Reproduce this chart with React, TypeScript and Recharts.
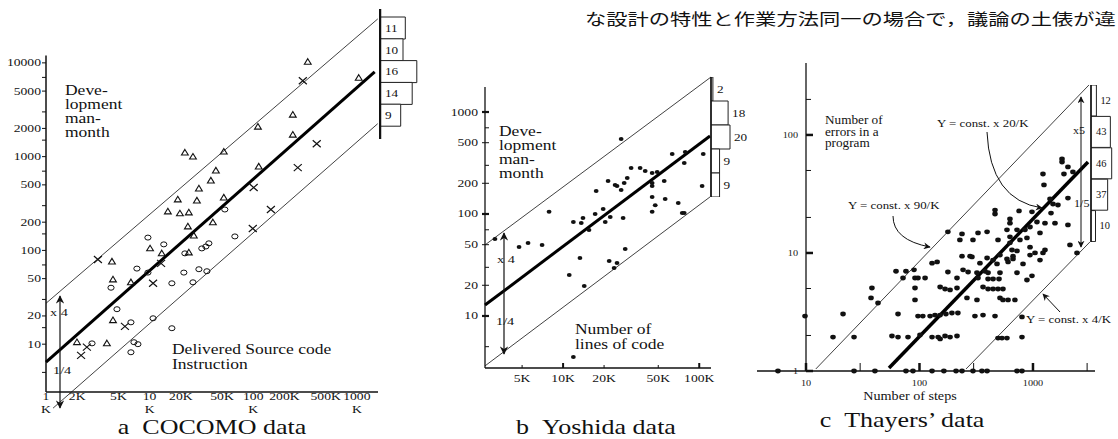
import { ScatterChart, Scatter, XAxis, YAxis, ReferenceLine, BarChart, Bar, LabelList } from 'recharts';

const SERIF = "'Liberation Serif', 'Times New Roman', Times, 'DejaVu Serif', serif";
const CJK = "'Noto Sans CJK JP', 'Noto Sans CJK SC', sans-serif";

type Pt = [number, number];
const toXY = (arr: Pt[]) => arr.map(([x, y]) => ({ x, y }));

// ---- a  COCOMO data (x: K instructions, y: man-month)
const cocomoTriangles: Pt[] = [
  [336, 10250], [1043, 6920], [241, 2800], [111, 2085], [241, 1714], [21.9, 1104], [26.2, 1000],
  [52, 1130], [113, 783], [43.6, 710], [39, 556], [29.9, 457], [18.7, 349], [28.6, 340], [52, 366],
  [15, 260], [19.6, 248], [23.9, 254], [23.4, 180], [40.8, 199], [26.7, 144], [10.1, 105], [13.1, 93],
  [23.9, 95], [4.33, 76], [4.43, 49], [6.6, 45.7], [4.43, 18], [1.99, 10.5], [3.87, 10.2],
];
const cocomoCircles: Pt[] = [
  [53.2, 273], [9.63, 137], [66.5, 141], [13.7, 116], [37.3, 119], [34.9, 110], [31.9, 105], [21.9, 93],
  [7.54, 64], [9.63, 58], [21.4, 58], [29.9, 63], [35.7, 60], [4.24, 40], [16.4, 44.6], [26.2, 45.7],
  [4.84, 23.6], [6.6, 17.1], [10.8, 18.9], [16.4, 14.8], [2.78, 10.2], [7.06, 10.5], [7.71, 10], [6.6, 8.2],
];
const cocomoCrosses: Pt[] = [
  [301, 6440], [410, 1374], [269, 764], [101, 468], [148, 273], [99, 171], [3.17, 80], [12.9, 72.7],
  [10.8, 44.6], [5.78, 15.5], [2.48, 9.3], [2.18, 7.6],
];
const cocomoUpper: Pt[] = [[1, 27.3], [1590, 29400]];
const cocomoCenter: Pt[] = [[1, 6.44], [1486, 8020]];
const cocomoLower: Pt[] = [[1.17, 2.08], [1590, 2245]];
const cocomoHist = [11, 10, 16, 14, 9];
const cocomoXDomain = [1, 1600];
const cocomoYDomain = [3.09, 32400];
const cocomoXTicks = [1, 2, 5, 10, 20, 50, 100, 200, 500, 1000];
const cocomoXTickLabels = ['1|K', '2K', '5K', '10|K', '20K', '50K', '100|K', '200K', '500K', '1000|K'];
const cocomoYLabels = [10, 20, 50, 100, 200, 500, 1000, 2000, 5000, 10000];
const cocomoYMinor = [5, 15, 30, 70, 150, 300, 700, 1500, 3000, 7000];

// ---- b  Yoshida data
const yoshidaDots: Pt[] = [
  [26.7, 544], [63.3, 388], [78.9, 405], [77.6, 316], [107, 388], [31.6, 282], [36.8, 282], [40.1, 264],
  [49.1, 258], [45.1, 252], [29.6, 225], [28.1, 201], [21.4, 211], [24.9, 188], [24.1, 192], [26.7, 172],
  [17.5, 168], [45.1, 201], [45.1, 188], [55.3, 211], [105, 188], [45.1, 147], [56.2, 140], [47.5, 122],
  [70.1, 128], [75, 102], [77.6, 102], [45.1, 105], [7.89, 105], [19.7, 112], [17.2, 100], [22.2, 93.5],
  [27.6, 91.4], [20.4, 83.5], [11.9, 83.5], [13.6, 81.6], [14, 91.4], [15.5, 69.7], [28.6, 45.4],
  [3.16, 56.9], [4.75, 47.5], [5.53, 52], [7.01, 49.7], [13.3, 37], [21.8, 34.6], [24.9, 33.1],
  [23.7, 29.6], [11.1, 25.2], [14.3, 19.7], [11.9, 3.96],
];
const yoshidaUpper: Pt[] = [[2.67, 49.7], [122, 2203]];
const yoshidaCenter: Pt[] = [[2.67, 12.8], [120, 582]];
const yoshidaLower: Pt[] = [[2.67, 3.24], [120, 147]];
const yoshidaHist = [2, 18, 20, 9, 9];
const yoshidaXDomain = [2.67, 122];
const yoshidaYDomain = [3.09, 2204];
const yoshidaXTicks = [5, 10, 20, 50, 100];
const yoshidaXTickLabels = ['5K', '10K', '20K', '50K', '100K'];
const yoshidaYLabels = [10, 20, 50, 100, 200, 500, 1000];
const yoshidaYMinor = [5, 30, 70, 300, 700];

// ---- c  Thayers' data (x: steps, y: errors)
const thayerDots: Pt[] = [
  [1803, 62.6], [1803, 59], [2033, 53.6], [2249, 48.6], [1875, 46.7], [1225, 46.7], [1250, 37.7],
  [1413, 28.7], [1500, 26], [1660, 25.5], [2033, 29.2],
  [753, 22.7], [463, 23.1], [463, 21.4], [980, 22.3], [1442, 21.8],
  [627, 19.4], [627, 17.9], [1084, 18.3], [1276, 17.9], [1563, 17.9], [2033, 17.3], [942, 16.6],
  [851, 15.7], [723, 15.7], [590, 15.7], [394, 15.1], [328, 14.8], [237, 14.5], [178, 15.1],
  [627, 13.7], [1153, 14.8],
  [296, 12.9], [227, 12.9], [492, 12.9], [627, 12.2], [768, 12.9], [885, 13.4],
  [942, 11.2], [1042, 10], [1276, 10.6], [2118, 11.7], [2443, 10],
  [290, 9.25], [237, 9.4], [394, 9.07], [653, 10.6], [723, 10.4], [279, 9.4], [512, 9.6], [667, 9.4],
  [942, 9.6], [1225, 10],
  [445, 8.7], [590, 8.9], [667, 8.9], [1153, 8.7],
  [129, 8.2], [143, 8.4], [341, 8.2], [482, 8.07], [603, 8.4], [817, 8.07],
  [242, 7.2], [268, 6.9], [321, 6.8], [378, 7.0], [402, 6.8], [512, 6.8], [723, 6.8],
  [62.1, 7.0], [76, 7.0], [89.5, 7.2], [178, 6.9],
  [71.6, 6.14], [91.3, 6.14], [97, 6.14], [112, 6.14], [214, 6.14], [328, 6.14], [402, 6.02], [445, 6.02],
  [502, 6.02], [980, 6.4], [885, 5.9],
  [38.1, 5.05], [91.3, 5.05], [152, 5.15], [168, 4.95], [186, 4.86], [214, 5.05], [363, 5.15], [402, 4.95],
  [445, 4.95], [492, 4.95], [544, 4.95],
  [37.4, 4.16], [91.3, 4.0], [262, 4.16], [321, 4.0], [512, 4.16], [544, 4.0], [603, 4.0], [694, 4.0],
  [9.8, 2.92], [21.2, 3.04], [43.1, 3.77], [64.7, 3.04], [97, 2.92], [107, 2.92], [124, 2.92], [137, 2.98],
  [152, 2.98], [171, 3.04], [193, 3.1], [218, 3.1], [308, 2.92], [363, 2.98], [463, 2.92], [800, 2.87],
  [17.3, 1.94], [26.5, 1.94], [57.2, 1.98], [64.7, 1.94], [79.2, 1.94], [101, 2.02], [129, 1.94], [146, 1.94],
  [152, 1.87], [168, 1.98], [186, 1.94], [214, 1.98], [492, 1.9], [533, 1.9], [590, 1.9], [800, 1.94],
  [5.66, 1], [26.5, 1], [40.5, 1], [76, 1], [87.6, 1], [129, 1], [164, 1], [210, 1], [237, 1], [296, 1],
  [355, 1], [394, 1], [723, 1], [800, 1],
];
const thayerUpper: Pt[] = [[12.2, 1.04], [3114, 265]];
const thayerCenter: Pt[] = [[53.9, 1.06], [3055, 59]];
const thayerLower: Pt[] = [[257, 1.04], [3177, 12.4]];
const thayerHist = [12, 43, 46, 37, 10];
const thayerXDomain = [3.7, 3520];
const thayerYDomain = [1, 407];
const thayerXTicks = [10, 30, 100, 300, 1000, 3000];
const thayerXLabels = [10, 100, 1000];
const thayerYTicks = [1, 2, 5, 10, 20, 50, 100, 200];
const thayerYLabels = [1, 10, 100];

const Txt = ({ x, y, size = 14, sx = 1.25, anchor = 'start', family = SERIF, children }: any) => (
  <text transform={`translate(${x} ${y}) scale(${sx} 1)`} style={{ fontFamily: family, fontSize: size }} textAnchor={anchor} fill="#111">
    {children}
  </text>
);

const seg = (p: Pt[]) => p.map(([x, y]) => ({ x, y }));

const triangle = (p: any) => (
  <path d={`M${p.cx},${p.cy - 3.2}L${p.cx + 3.4},${p.cy + 2.4}L${p.cx - 3.4},${p.cy + 2.4}Z`} fill="none" stroke="#111" strokeWidth={1.1} />
);
const ring = (p: any) => <ellipse cx={p.cx} cy={p.cy} rx={3.1} ry={2.5} fill="none" stroke="#111" strokeWidth={1} />;
const xmark = (p: any) => (
  <path d={`M${p.cx - 4},${p.cy - 3.5}L${p.cx + 4},${p.cy + 3.5}M${p.cx - 4},${p.cy + 3.5}L${p.cx + 4},${p.cy - 3.5}`} stroke="#111" strokeWidth={1.2} />
);
const smallDot = (p: any) => <ellipse cx={p.cx} cy={p.cy} rx={2.4} ry={2} fill="#111" />;
const bigDot = (p: any) => <ellipse cx={p.cx} cy={p.cy} rx={2.8} ry={2.4} fill="#111" />;

function Histogram({ counts, left, top, width, height, pxPerUnit, padTop = 0, padBottom = 0, baseWidth, inside, size, sx }: any) {
  const rows = counts.map((n: number, i: number) => ({ bin: `b${i}`, n }));
  const label = (p: any) => {
    const w = Number(p.width);
    const put = inside(p.value, w);
    return (
      <Txt x={put ? p.x + 5 : p.x + w + 4} y={p.y + p.height / 2 + size * 0.35} size={size} sx={sx}>
        {p.value}
      </Txt>
    );
  };
  return (
    <div style={{ position: 'absolute', left, top }}>
      <BarChart layout="vertical" width={width} height={height} data={rows} margin={{ top: 0, right: 0, bottom: 0, left: 0 }} barCategoryGap={0}>
        <XAxis type="number" hide domain={[0, (width - 1) / pxPerUnit]} />
        <YAxis type="category" dataKey="bin" width={1} tick={false} tickLine={false} axisLine={{ stroke: '#111', strokeWidth: baseWidth }} padding={{ top: padTop, bottom: padBottom }} />
        <Bar dataKey="n" fill="#fff" stroke="#222" strokeWidth={1} isAnimationActive={false}>
          <LabelList dataKey="n" content={label} />
        </Bar>
      </BarChart>
    </div>
  );
}

function ChartA() {
  const xTick = (p: any) => {
    const i = cocomoXTicks.indexOf(p.payload.value);
    const lines = (cocomoXTickLabels[i] || '').split('|');
    return (
      <g>
        {lines.map((l, k) => (
          <Txt key={k} x={p.x} y={p.y + 8 + k * 13} size={10.5} sx={1.3} anchor="middle">{l}</Txt>
        ))}
      </g>
    );
  };
  const yTick = (p: any) => {
    const v = p.payload.value;
    return (
      <g>
        <line x1={p.x - 4} x2={p.x} y1={p.y} y2={p.y} stroke="#111" strokeWidth={1} />
        {cocomoYLabels.includes(v) && <Txt x={p.x - 5} y={p.y + 3.5} size={10.5} sx={1.3} anchor="end">{v}</Txt>}
      </g>
    );
  };
  return (
    <div style={{ position: 'absolute', left: 0, top: 0 }}>
      <ScatterChart width={400} height={439} margin={{ top: 15, right: 22, bottom: 0, left: 0 }}>
        <XAxis type="number" dataKey="x" scale="log" domain={cocomoXDomain} ticks={cocomoXTicks} interval={0} height={47}
          tickSize={0} tickMargin={0} tickLine={false} axisLine={{ stroke: '#111', strokeWidth: 1.5 }} tick={xTick} />
        <YAxis type="number" dataKey="y" scale="log" domain={cocomoYDomain} ticks={[...cocomoYLabels, ...cocomoYMinor].sort((a, b) => a - b)}
          interval={0} width={46} tickSize={0} tickMargin={0} tickLine={false} axisLine={false} tick={yTick} />
        <ReferenceLine segment={[{ x: 1, y: cocomoYDomain[0] }, { x: 1, y: 12000 }]} stroke="#111" strokeWidth={1.5} ifOverflow="visible" />
        <ReferenceLine segment={seg(cocomoUpper)} stroke="#111" strokeWidth={0.8} ifOverflow="visible" />
        <ReferenceLine segment={seg(cocomoCenter)} stroke="#000" strokeWidth={3} ifOverflow="visible" />
        <ReferenceLine segment={seg(cocomoLower)} stroke="#111" strokeWidth={0.8} ifOverflow="visible" />
        <Scatter data={toXY(cocomoTriangles)} shape={triangle} isAnimationActive={false} />
        <Scatter data={toXY(cocomoCircles)} shape={ring} isAnimationActive={false} />
        <Scatter data={toXY(cocomoCrosses)} shape={xmark} isAnimationActive={false} />
      </ScatterChart>
    </div>
  );
}

function ChartB() {
  const xTick = (p: any) => {
    const i = yoshidaXTicks.indexOf(p.payload.value);
    const major = p.payload.value === 10 || p.payload.value === 100;
    return (
      <g>
        <line x1={p.x} x2={p.x} y1={p.y - (major ? 5 : 3)} y2={p.y} stroke="#111" strokeWidth={major ? 2 : 1} />
        <Txt x={p.x} y={p.y + 14} size={10.5} sx={1.3} anchor="middle">{yoshidaXTickLabels[i]}</Txt>
      </g>
    );
  };
  const yTick = (p: any) => {
    const v = p.payload.value;
    const lab = yoshidaYLabels.includes(v);
    const major = v === 10 || v === 100 || v === 1000;
    return (
      <g>
        <line x1={lab ? p.x - 3 : p.x} x2={p.x + 4} y1={p.y} y2={p.y} stroke="#111" strokeWidth={major ? 2.2 : 1} />
        {lab && <Txt x={p.x - 7} y={p.y + 3.5} size={10.5} sx={1.3} anchor="end">{v}</Txt>}
      </g>
    );
  };
  return (
    <div style={{ position: 'absolute', left: 400, top: 0 }}>
      <ScatterChart width={330} height={439} margin={{ top: 77, right: 19, bottom: 0, left: 0 }}>
        <XAxis type="number" dataKey="x" scale="log" domain={yoshidaXDomain} ticks={yoshidaXTicks} interval={0} height={71}
          tickSize={0} tickMargin={0} tickLine={false} axisLine={{ stroke: '#111', strokeWidth: 1.3 }} tick={xTick} />
        <YAxis type="number" dataKey="y" scale="log" domain={yoshidaYDomain} ticks={[...yoshidaYLabels, ...yoshidaYMinor].sort((a, b) => a - b)}
          interval={0} width={85} tickSize={0} tickMargin={0} tickLine={false} axisLine={false} tick={yTick} />
        <ReferenceLine segment={[{ x: yoshidaXDomain[0], y: yoshidaYDomain[0] }, { x: yoshidaXDomain[0], y: 1760 }]} stroke="#111" strokeWidth={1.3} ifOverflow="visible" />
        <ReferenceLine segment={seg(yoshidaUpper)} stroke="#111" strokeWidth={0.8} ifOverflow="visible" />
        <ReferenceLine segment={seg(yoshidaCenter)} stroke="#000" strokeWidth={3} ifOverflow="visible" />
        <ReferenceLine segment={seg(yoshidaLower)} stroke="#111" strokeWidth={0.8} ifOverflow="visible" />
        <Scatter data={toXY(yoshidaDots)} shape={smallDot} isAnimationActive={false} />
      </ScatterChart>
    </div>
  );
}

function ChartC() {
  const xTick = (p: any) => {
    const v = p.payload.value;
    const major = thayerXLabels.includes(v);
    return (
      <g>
        <line x1={p.x} x2={p.x} y1={p.y - 8} y2={p.y} stroke="#111" strokeWidth={major ? 2.5 : 1} />
        {major && <Txt x={p.x} y={p.y + 15} size={8.5} sx={1.2} anchor="middle">{v}</Txt>}
      </g>
    );
  };
  const yTick = (p: any) => {
    const v = p.payload.value;
    const major = thayerYLabels.includes(v);
    return (
      <g>
        <line x1={p.x} x2={p.x + (major ? 7 : 5)} y1={p.y} y2={p.y} stroke="#111" strokeWidth={major ? 2.5 : 1} />
        {major && <Txt x={p.x - 8} y={p.y + 3} size={8.5} sx={1.2} anchor="end">{v}</Txt>}
      </g>
    );
  };
  return (
    <>
      <div style={{ position: 'absolute', left: 730, top: 0 }}>
        <ScatterChart width={90} height={439} margin={{ top: 63, right: 0, bottom: 68, left: 0 }}>
          <XAxis type="number" dataKey="x" hide domain={[0, 1]} />
          <YAxis type="number" dataKey="y" scale="log" domain={thayerYDomain} ticks={thayerYTicks} interval={0} width={76}
            tickSize={0} tickMargin={0} tickLine={false} axisLine={{ stroke: '#333', strokeWidth: 1.5 }} tick={yTick} allowDataOverflow />
        </ScatterChart>
      </div>
      <div style={{ position: 'absolute', left: 730, top: 0 }}>
        <ScatterChart width={388} height={439} margin={{ top: 63, right: 23, bottom: 0, left: 27 }}>
          <XAxis type="number" dataKey="x" scale="log" domain={thayerXDomain} ticks={thayerXTicks} interval={0} height={68}
            tickSize={0} tickMargin={0} tickLine={false} axisLine={{ stroke: '#111', strokeWidth: 1.5 }} tick={xTick} />
          <YAxis type="number" dataKey="y" scale="log" domain={thayerYDomain} hide />
          <ReferenceLine segment={seg(thayerUpper)} stroke="#111" strokeWidth={0.8} ifOverflow="visible" />
          <ReferenceLine segment={seg(thayerCenter)} stroke="#000" strokeWidth={3.5} ifOverflow="visible" />
          <ReferenceLine segment={seg(thayerLower)} stroke="#111" strokeWidth={0.8} ifOverflow="visible" />
          <Scatter data={toXY(thayerDots)} shape={bigDot} isAnimationActive={false} />
        </ScatterChart>
      </div>
    </>
  );
}

function Notes() {
  return (
    <svg width={1118} height={439} style={{ position: 'absolute', left: 0, top: 0, pointerEvents: 'none' }}>
      <defs>
        <marker id="ah" viewBox="0 0 10 10" refX="9" refY="5" markerWidth="7" markerHeight="7" orient="auto-start-reverse">
          <path d="M0,0 L10,5 L0,10 L3,5 z" fill="#111" />
        </marker>
      </defs>
      <Txt x={585} y={25} size={16} sx={1.33} family={CJK}>な設計の特性と作業方法同一の場合で，議論の土俵が違</Txt>

      {/* a */}
      <Txt x={65} y={95}>Deve-</Txt>
      <Txt x={65} y={109}>lopment</Txt>
      <Txt x={65} y={123}>man-</Txt>
      <Txt x={65} y={137}>month</Txt>
      <Txt x={172} y={354}>Delivered Source code</Txt>
      <Txt x={172} y={369}>Instruction</Txt>
      <Txt x={50} y={316} size={11} sx={1.3}>x 4</Txt>
      <Txt x={53} y={374} size={11} sx={1.3}>1/4</Txt>
      <line x1={60} y1={296} x2={60} y2={408} stroke="#111" strokeWidth={1.2} markerStart="url(#ah)" markerEnd="url(#ah)" />
      <Txt x={212} y={434} size={20} sx={1.3} anchor="middle">{'a\u00a0\u00a0COCOMO data'}</Txt>

      {/* b */}
      <Txt x={499} y={136}>Deve-</Txt>
      <Txt x={499} y={150}>lopment</Txt>
      <Txt x={499} y={164}>man-</Txt>
      <Txt x={499} y={178}>month</Txt>
      <Txt x={575} y={334}>Number of</Txt>
      <Txt x={575} y={349}>lines of code</Txt>
      <Txt x={497} y={263} size={11} sx={1.3}>x 4</Txt>
      <Txt x={496} y={325} size={11} sx={1.3}>1/4</Txt>
      <line x1={504} y1={233} x2={504} y2={354} stroke="#111" strokeWidth={1.2} markerStart="url(#ah)" markerEnd="url(#ah)" />
      <Txt x={596} y={434} size={20} sx={1.3} anchor="middle">{'b\u00a0\u00a0Yoshida data'}</Txt>

      {/* c */}
      <Txt x={825} y={124} size={11.5} sx={1.15}>Number of</Txt>
      <Txt x={825} y={135.5} size={11.5} sx={1.15}>errors in a</Txt>
      <Txt x={825} y={147} size={11.5} sx={1.15}>program</Txt>
      <Txt x={937} y={127} size={11} sx={1.17}>Y = const. x 20/K</Txt>
      <Txt x={848} y={209} size={11} sx={1.17}>Y = const. x 90/K</Txt>
      <Txt x={1026} y={323} size={11} sx={1.17}>Y = const. x 4/K</Txt>
      <Txt x={1073} y={134} size={11} sx={1.1}>x5</Txt>
      <Txt x={1074} y={207} size={11} sx={1.1}>1/5</Txt>
      <line x1={1081} y1={97} x2={1081} y2={247} stroke="#111" strokeWidth={1} markerStart="url(#ah)" markerEnd="url(#ah)" />
      <path d="M987,132 Q990,200 1042,208" fill="none" stroke="#111" strokeWidth={1} markerEnd="url(#ah)" />
      <path d="M893,216 Q893,240 930,247" fill="none" stroke="#111" strokeWidth={1} markerEnd="url(#ah)" />
      <line x1={1060} y1={312} x2={1043} y2={294} stroke="#111" strokeWidth={1} markerEnd="url(#ah)" />
      <Txt x={910} y={400} size={11.5} sx={1.23} anchor="middle">Number of steps</Txt>
      <Txt x={902} y={427} size={20} sx={1.3} anchor="middle">{'c\u00a0\u00a0Thayers\u2019 data'}</Txt>
    </svg>
  );
}

export default function App() {
  return (
    <div style={{ position: 'absolute', left: 0, top: 0, width: 1118, height: 439, background: '#fff', overflow: 'hidden' }}>
      <ChartA />
      <ChartB />
      <ChartC />
      <Histogram counts={cocomoHist} left={379} top={9} width={50} height={130} pxPerUnit={2.3} padTop={8} padBottom={13}
        baseWidth={2.5} inside={() => true} size={11} sx={1.2} />
      <Histogram counts={yoshidaHist} left={710} top={77} width={45} height={120} pxPerUnit={0.95}
        baseWidth={1.5} inside={() => false} size={11} sx={1.2} />
      <Histogram counts={thayerHist} left={1090} top={85} width={28} height={157} pxPerUnit={0.45}
        baseWidth={1.5} inside={(v: number) => v > 20} size={9.5} sx={1.1} />
      <Notes />
    </div>
  );
}
